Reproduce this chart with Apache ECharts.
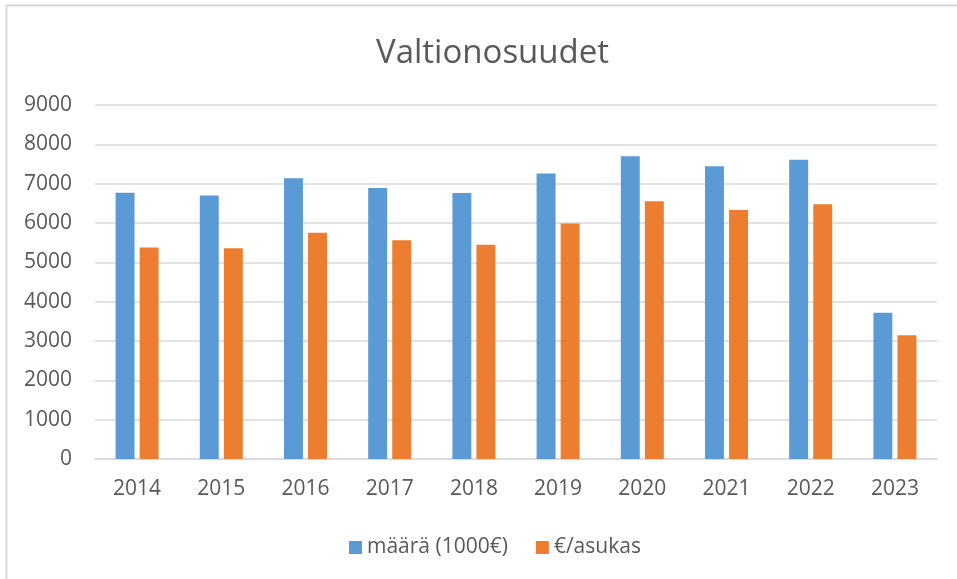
<!DOCTYPE html>
<html>
<head>
<meta charset="utf-8">
<script src="https://cdn.jsdelivr.net/npm/echarts@6/dist/echarts.min.js"></script>
<style>
  html, body { margin: 0; padding: 0; background: #fff; }
  #chart { width: 957px; height: 579px; }
</style>
</head>
<body>
<div id="chart"></div>
<script>
const years = ['2014', '2015', '2016', '2017', '2018', '2019', '2020', '2021', '2022', '2023'];
const maara = [6770, 6700, 7140, 6890, 6760, 7260, 7700, 7440, 7610, 3720];
const perAsukas = [5375, 5360, 5755, 5560, 5450, 5990, 6550, 6330, 6475, 3145];

const getOption = () => {
    const labelFont = {
        color: '#595959',
        fontSize: 21,
        fontFamily: 'Open Sans'
    };
    return {
        title: {
            text: 'Valtionosuudet',
            left: 371,
            top: 32,
            textStyle: {
                color: '#595959',
                fontSize: 33,
                fontWeight: 'normal',
                fontFamily: 'Open Sans'
            }
        },
        graphic: [
            {
                type: 'polyline',
                shape: { points: [[6.5, 579], [6.5, 5.5], [957, 5.5]] },
                style: { stroke: '#d9d9d9', lineWidth: 2, fill: null }
            }
        ],
        legend: {
            top: 532,
            left: 344,
            itemWidth: 13,
            itemHeight: 13,
            itemGap: 28,
            icon: 'rect',
            textStyle: labelFont,
            data: ['määrä (1000€)', '€/asukas']
        },
        grid: {
            left: 95,
            right: 20,
            top: 105,
            bottom: 120
        },
        xAxis: {
            type: 'category',
            data: years,
            axisLine: { lineStyle: { color: '#d9d9d9', width: 1.5 } },
            axisTick: { show: false },
            axisLabel: Object.assign({ margin: 20 }, labelFont)
        },
        yAxis: {
            type: 'value',
            min: 0,
            max: 9000,
            interval: 1000,
            axisLine: { show: false },
            axisTick: { show: false },
            axisLabel: Object.assign({ margin: 23, formatter: (v) => String(v) }, labelFont),
            splitLine: { lineStyle: { color: '#d9d9d9', width: 1.5 } }
        },
        series: [
            {
                name: 'määrä (1000€)',
                type: 'bar',
                data: maara,
                barWidth: '22.5%',
                barGap: '27%',
                itemStyle: { color: '#5b9bd5' }
            },
            {
                name: '€/asukas',
                type: 'bar',
                data: perAsukas,
                barWidth: '22.5%',
                itemStyle: { color: '#ed7d31' }
            }
        ]
    };
};

window.addEventListener('load', () => {
    const chart = echarts.init(document.getElementById('chart'));
    chart.setOption(getOption());
});
</script>
</body>
</html>
